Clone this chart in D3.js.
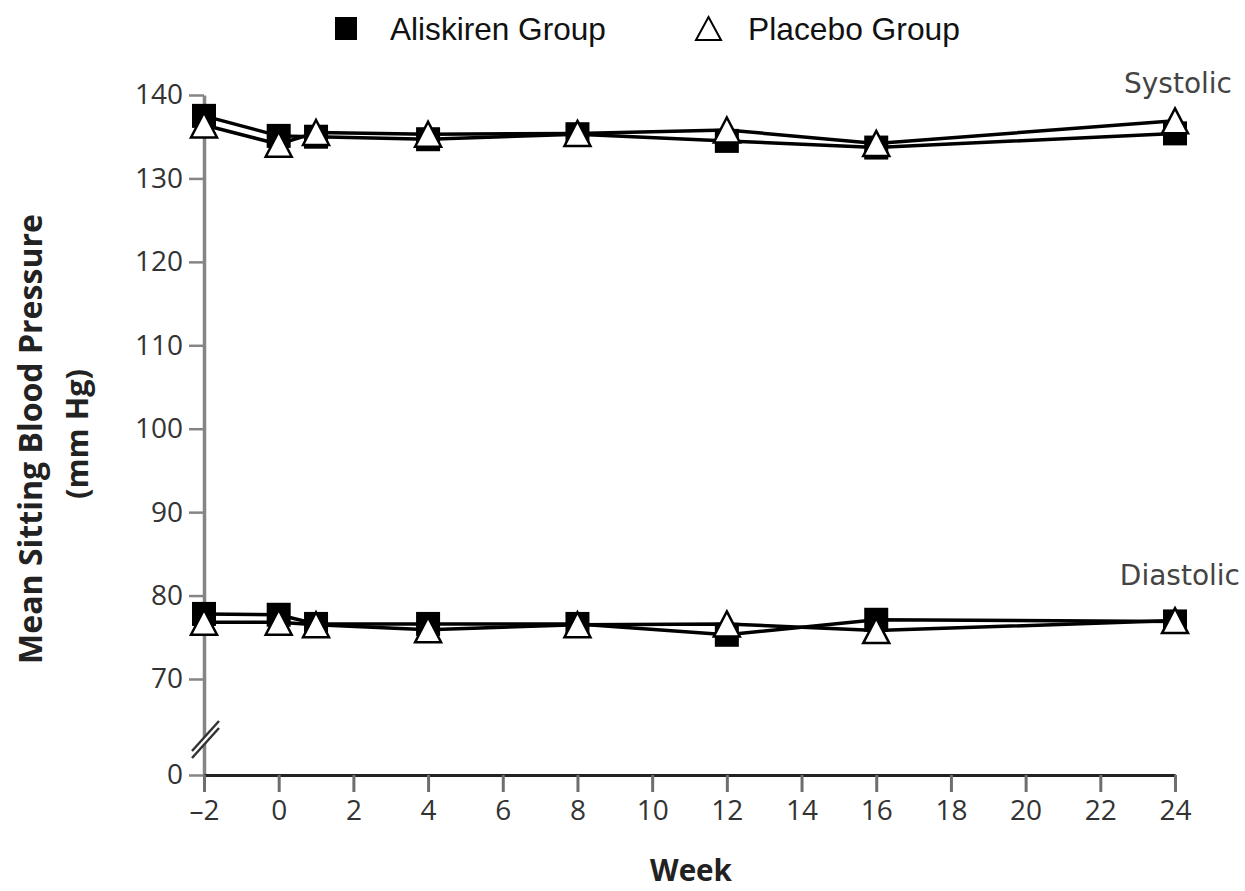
<!DOCTYPE html>
<html>
<head>
<meta charset="utf-8">
<script src="https://cdn.jsdelivr.net/npm/d3@7"></script>
<style>
  html, body { margin: 0; padding: 0; background: #fff; }
  svg { display: block; }
</style>
</head>
<body>
<div id="chart"></div>
<script>
// data
const weeks = [-2, 0, 1, 4, 8, 12, 16, 24];
const aliskirenSystolic  = [137.5, 135.1, 135.0, 134.7, 135.3, 134.5, 133.7, 135.4];
const placeboSystolic    = [136.4, 134.1, 135.5, 135.3, 135.4, 135.8, 134.2, 136.9];
const aliskirenDiastolic = [77.8, 77.7, 76.6, 76.6, 76.6, 75.3, 77.1, 76.9];
const placeboDiastolic   = [76.8, 76.8, 76.5, 75.9, 76.5, 76.6, 75.8, 77.0];
const xTicks = [-2, 0, 2, 4, 6, 8, 10, 12, 14, 16, 18, 20, 22, 24];
const yTicks = [0, 70, 80, 90, 100, 110, 120, 130, 140];

const W = 1245, H = 891;
const svg = d3.select('#chart').append('svg').attr('width', W).attr('height', H);

const x = d3.scaleLinear().domain([-2, 24]).range([204, 1175]);
// broken axis: 0..70 squeezed, 70..140 linear
const y = d3.scaleLinear().domain([0, 70, 140]).range([775, 679, 95]);

const tickFont = '"Open Sans", sans-serif';
const labFont = '"DejaVu Sans", sans-serif';

// shrink/grow a text's font size so it spans about len pixels
const fit = (t, len) => {
  const fs = parseFloat(t.style('font-size'));
  t.style('font-size', (fs * len / t.node().getComputedTextLength()) + 'px');
  return t;
};

// y axis (grey)
const yAx = svg.append('g').attr('transform', `translate(${x(-2)},0)`)
  .call(d3.axisLeft(y).tickValues(yTicks).tickSize(15).tickSizeOuter(0).tickPadding(6));
yAx.select('.domain').attr('stroke', '#858585').attr('stroke-width', 3.5);
yAx.selectAll('.tick line').attr('stroke', '#858585').attr('stroke-width', 2.5);
yAx.selectAll('.tick text').style('font-family', tickFont).style('font-size', '28px').attr('fill', '#333');

// axis break
const bk = svg.append('g');
bk.append('path').attr('d', `M${x(-2)-12},${752} L${x(-2)+14},${722} L${x(-2)+14},${729} L${x(-2)-12},${759} Z`).attr('fill', '#fff');
[0, 7].forEach(o => bk.append('line')
  .attr('x1', x(-2) - 12).attr('y1', 751 + o).attr('x2', x(-2) + 15).attr('y2', 721 + o)
  .attr('stroke', '#333').attr('stroke-width', 2.5));

// x axis (black line, grey ticks)
const xAx = svg.append('g').attr('transform', `translate(0,${y(0)})`)
  .call(d3.axisBottom(x).tickValues(xTicks).tickSize(17).tickSizeOuter(0).tickPadding(8)
    .tickFormat(d => d < 0 ? '\u2013' + (-d) : d));
xAx.select('.domain').attr('stroke', '#222').attr('stroke-width', 3);
xAx.selectAll('.tick line').attr('stroke', '#6e6e6e').attr('stroke-width', 3);
xAx.selectAll('.tick text').style('font-family', tickFont).style('font-size', '28px').attr('fill', '#333');

// axis titles
fit(svg.append('text').attr('x', 691).attr('y', 881).attr('text-anchor', 'middle')
  .style('font-family', tickFont).style('font-weight', 700).style('font-size', '26px').attr('fill', '#222')
  .text('Week'), 82);
fit(svg.append('text').attr('transform', 'translate(42,439) rotate(-90)').attr('text-anchor', 'middle')
  .style('font-family', tickFont).style('font-weight', 700).style('font-size', '27px').attr('fill', '#222')
  .text('Mean Sitting Blood Pressure'), 450);
fit(svg.append('text').attr('transform', 'translate(88,434) rotate(-90)').attr('text-anchor', 'middle')
  .style('font-family', tickFont).style('font-weight', 700).style('font-size', '27px').attr('fill', '#222')
  .text('(mm Hg)'), 130);

// series labels
svg.append('text').attr('x', 1232).attr('y', 93).attr('text-anchor', 'end')
  .style('font-family', labFont).style('font-size', '28px').attr('fill', '#444').text('Systolic');
svg.append('text').attr('x', 1240).attr('y', 585).attr('text-anchor', 'end')
  .style('font-family', labFont).style('font-size', '28px').attr('fill', '#444').text('Diastolic');

// lines + markers
const line = d3.line().x((d, i) => x(weeks[i])).y(d => y(d));
const tri = 'M0,-12.5 L13,12.5 L-13,12.5 Z';
const series = [
  { v: placeboSystolic, kind: 'tri' },
  { v: aliskirenSystolic, kind: 'sq' },
  { v: placeboDiastolic, kind: 'tri' },
  { v: aliskirenDiastolic, kind: 'sq' },
];
const lg = svg.append('g');
series.forEach(s => lg.append('path').attr('d', line(s.v))
  .attr('fill', 'none').attr('stroke', '#000').attr('stroke-width', 3.5));

const mg = svg.append('g');
series.filter(s => s.kind === 'sq').forEach(s =>
  mg.selectAll(null).data(s.v).join('rect')
    .attr('x', (d, i) => x(weeks[i]) - 12).attr('y', d => y(d) - 12)
    .attr('width', 24).attr('height', 24).attr('fill', '#000'));
series.filter(s => s.kind === 'tri').forEach(s =>
  mg.selectAll(null).data(s.v).join('path')
    .attr('transform', (d, i) => `translate(${x(weeks[i])},${y(d)})`)
    .attr('d', tri).attr('fill', '#fff').attr('stroke', '#000').attr('stroke-width', 2.5)
    .attr('stroke-linejoin', 'miter'));

// legend
const leg = svg.append('g');
leg.append('rect').attr('x', 335).attr('y', 17).attr('width', 22).attr('height', 23).attr('fill', '#000');
fit(leg.append('text').attr('x', 390).attr('y', 40)
  .style('font-family', '"Liberation Sans", Arial, sans-serif').style('font-size', '29px').attr('fill', '#111')
  .text('Aliskiren Group'), 216);
leg.append('path').attr('d', 'M708.5,17 L721,40 L696,40 Z').attr('fill', '#fff').attr('stroke', '#000').attr('stroke-width', 2);
fit(leg.append('text').attr('x', 748).attr('y', 40)
  .style('font-family', '"Liberation Sans", Arial, sans-serif').style('font-size', '29px').attr('fill', '#111')
  .text('Placebo Group'), 212);
</script>
</body>
</html>
